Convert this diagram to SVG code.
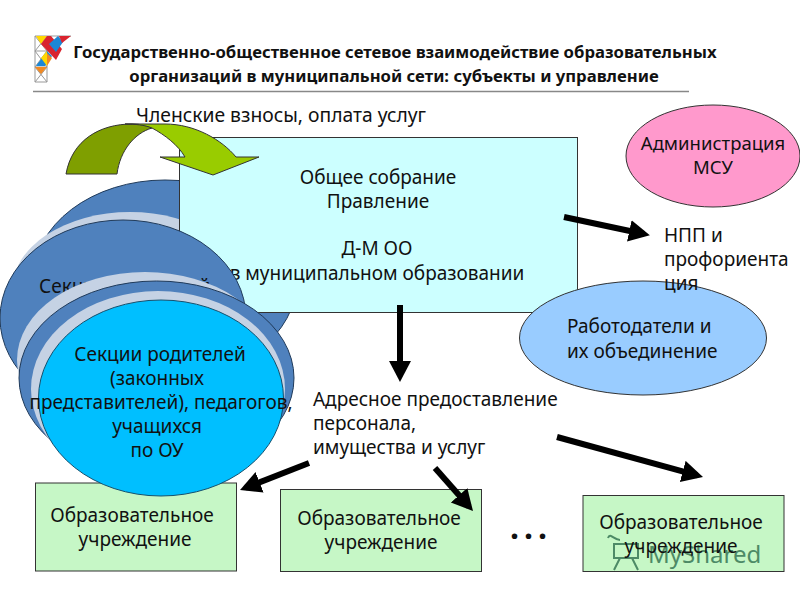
<svg xmlns="http://www.w3.org/2000/svg" width="800" height="600" viewBox="0 0 800 600">
<style>
text{font-family:"Noto Sans","DejaVu Sans",sans-serif;font-size:19px;fill:#111}
.m{text-anchor:middle}
.t{font-weight:700;font-size:16.700px}
.blue{fill:#4f81bd;stroke:#1f3a5a;stroke-width:1}
.halo{fill:#c5d2e4}
.box{fill:#c6f7c6;stroke:#333;stroke-width:1}
.ar{stroke:#000;stroke-width:6;fill:none;marker-end:url(#h)}
</style>
<defs>
<marker id="h" markerWidth="4" markerHeight="4" refX="2.500" refY="1.830" orient="auto"><path d="M0,0L3.500,1.830L0,3.660Z"/></marker>
</defs>
<rect width="800" height="600" fill="#fff"/>
<g id="logo">
<path d="M35 36H71M35 36V82M47 36V82M59 36V51M35 51H59M35 67H47M35 82H47M35 36L47 51M47 36L35 51M35 51L47 67M47 51L35 67M35 67L47 82M47 67L35 82" stroke="#999" fill="none" stroke-width="1"/>
<path d="M36 36H47L41 44Z" fill="#ffd800"/>
<path d="M47 36H51L62 49L56 60L41 44Z" fill="#d9232e"/>
<path d="M58 36L63 42L56 52L49 44Z" fill="#1b87d6"/>
<path d="M59 36H71L62 43Z" fill="#d9232e"/>
<path d="M47 51L52 56L45 66L36 66Z" fill="#1b87d6"/>
<path d="M41 58L47 51V66Z" fill="#ffd800"/>
<path d="M47 53L52 58L47 66Z" fill="#f08a24"/>
<path d="M35 67H47L41 74Z" fill="#f08a24"/>
</g>
<g id="title">
<text class="m t" x="395" y="58">Государственно-общественное сетевое взаимодействие образовательных</text>
<text class="m t" x="394" y="82">организаций в муниципальной сети: субъекты и управление</text>
<path d="M33 91.500H689" stroke="#888" stroke-width="1.500"/>
</g>
<text class="m" x="281" y="122" style="font-size:19.300px">Членские взносы, оплата услуг</text>
<g id="sections-back">
<ellipse class="blue" cx="165" cy="280" rx="132" ry="100"/>
<ellipse class="halo" cx="130" cy="290" rx="118" ry="78"/>
</g>
<g id="general-meeting">
<rect x="179.500" y="137.500" width="398" height="175" fill="#ccffff" stroke="#333"/>
<text class="m" x="378" y="184">Общее собрание</text>
<text class="m" x="378" y="208">Правление</text>
<text class="m" x="377" y="255">Д-М ОО</text>
<text class="m" x="377" y="280">в муниципальном образовании</text>
</g>
<g id="school-1"><rect class="box" x="35.500" y="483" width="201" height="88"/><text class="m" x="132" y="522">Образовательное</text><text class="m" x="135" y="546">учреждение</text></g>
<g id="school-2"><rect class="box" x="280.500" y="489.500" width="201" height="82"/><text class="m" x="379" y="525">Образовательное</text><text class="m" x="381" y="549">учреждение</text></g>
<g id="school-3"><rect class="box" x="583" y="495.500" width="201" height="76"/>
<g fill="none" stroke="#4d8a66" stroke-width="2"><path d="M614 544V558H638V544ZM608 538C610 532 614 540 620 540M620 558L614 570M632 558L638 570"/></g>
<text x="648" y="563" style="font-size:24px;fill:#4d8a66">MyShared</text>
<text class="m" x="681" y="529">Образовательное</text><text class="m" x="681" y="553">учреждение</text></g>
<g id="sections-front">
<ellipse class="blue" cx="123" cy="318" rx="123" ry="98"/>
<text x="39" y="293">Секции родителей</text>
<ellipse class="halo" cx="145" cy="360" rx="128" ry="88"/>
<ellipse class="blue" cx="156.500" cy="378" rx="137.500" ry="97"/>
<ellipse class="halo" cx="158" cy="389" rx="127" ry="98"/>
<ellipse cx="161" cy="398" rx="122.500" ry="98" fill="#00bfff" stroke="#14506e"/>
<text class="m" x="160" y="361">Секции родителей</text>
<text class="m" x="157" y="385">(законных</text>
<text class="m" x="161" y="409">представителей), педагогов,</text>
<text class="m" x="157" y="433">учащихся</text>
<text class="m" x="157" y="457">по ОУ</text>
</g>
<g id="green-arrow">
<path d="M66 174C72 140 100 124 132 124C140 124 146 125 152 128C135 133 120 150 117 174Z" fill="#7f9f00" stroke="#333"/>
<path d="M125 124H165C195 124 222 140 236 157H259L213 175L160 157H185C178 145 165 135 152 128C145 125 135 124 125 124Z" fill="#99cc00" stroke="#333"/>
</g>
<g id="admin"><ellipse cx="713" cy="156" rx="87" ry="51" fill="#ff99cc" stroke="#333"/>
<text class="m" x="713" y="150" style="font-size:18.500px">Администрация</text><text class="m" x="713" y="174" style="font-size:18.500px">МСУ</text></g>
<g id="employers"><ellipse cx="643" cy="338" rx="123.500" ry="57" fill="#99ccff" stroke="#333"/>
<text x="567" y="333">Работодатели и</text><text x="567" y="358">их объединение</text></g>
<text x="664" y="242">НПП и</text><text x="664" y="266">профориента</text><text x="664" y="290">ция</text>
<text x="313" y="406">Адресное предоставление</text><text x="313" y="430">персонала,</text><text x="313" y="454">имущества и услуг</text>
<g id="connectors">
<path class="ar" d="M564 217L644 234"/>
<path class="ar" d="M400 305V376"/>
<path class="ar" d="M309 463L245.600 487.800"/>
<path class="ar" d="M435 468L469 506.500"/>
<path class="ar" d="M557 437L697.200 475.400"/>
</g>
<text class="m" x="531" y="539" style="font-size:32px;font-weight:700;letter-spacing:5px">...</text>
</svg>
